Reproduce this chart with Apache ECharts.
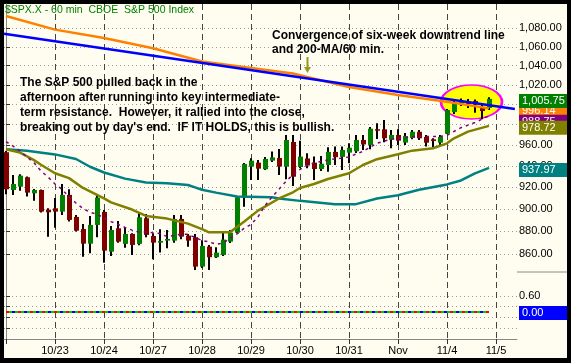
<!DOCTYPE html>
<html><head><meta charset="utf-8">
<script src="https://cdn.jsdelivr.net/npm/echarts@6/dist/echarts.min.js"></script>
<style>html,body{margin:0;padding:0;background:#000;}#c{width:571px;height:363px;}</style>
</head><body><div id="c"></div>
<script>
// ---- data (60-minute bars, 10/22 .. 11/4) ----
const opens = [953.0,917.3,920.4,929.2,914.3,917.3,899.3, 900.5,897.5,912.8,892.7,881.9,868.9,885.5, 897.2,861.9,882.5,868.7,877.5,868.7,891.5, 875.7,869.8,871.6,871.6,890.9,876.0,874.6, 849.0,866.3,857.1,859.1,870.7,878.6,910.6, 939.2,943.0,936.7,944.9,947.5,939.2,962.9, 938.9,947.0,943.0,937.0,940.8,953.3,948.5, 952.6,953.9,964.9,960.0,975.4,975.3,965.1, 969.7,962.3,966.8,972.9,967.8,965.5,962.2, 971.0,992.5,1001.3,1002.9,1003.6,997.1,996.6];
const highs = [954.2,931.3,932.0,929.9,918.3,917.8,900.5, 910.0,922.9,918.0,894.5,886.4,893.6,912.8, 899.0,884.6,889.1,883.4,878.1,896.6,895.4, 878.1,881.6,881.0,894.5,894.5,877.5,877.5, 872.0,867.8,865.8,878.6,881.0,911.8,942.7, 947.2,945.6,948.5,953.6,956.2,969.7,969.7, 964.2,952.0,948.8,949.4,957.8,958.4,958.6, 961.7,969.7,969.7,977.6,981.3,984.6,974.7, 975.3,971.7,974.7,974.7,969.7,966.5,969.7, 995.6,1003.9,1006.2,1005.7,1005.2,1001.6,1007.4];
const lows = [913.4,912.8,916.7,911.2,907.5,896.8,875.1, 883.1,894.5,888.5,879.6,857.6,860.5,874.6, 852.4,858.2,869.8,865.4,859.1,867.5,874.6, 855.3,861.1,864.9,869.8,872.7,866.3,846.2, 847.9,846.2,856.5,858.2,869.6,878.1,902.0, 926.6,926.6,936.0,943.7,931.3,927.3,921.0, 937.9,937.6,926.6,935.1,934.4,940.8,936.0, 942.4,952.3,955.2,955.9,965.8,962.6,956.8, 960.0,960.0,965.5,964.9,958.4,957.8,960.0, 970.7,990.5,998.6,996.6,991.8,985.2,994.5];
const closes = [918.0,922.9,930.7,914.9,917.3,897.5,896.9, 897.5,912.8,890.0,880.4,868.9,885.5,910.3, 862.8,881.0,870.7,877.5,867.8,892.4,876.6, 869.8,871.3,873.1,890.9,875.1,871.6,849.0, 866.9,857.1,861.1,872.5,878.6,910.6,941.7, 944.9,937.3,946.5,948.0,939.3,964.9,929.7, 948.8,940.3,937.0,942.0,953.3,948.2,955.2, 957.3,964.9,960.5,975.9,973.9,966.5,969.7, 964.2,968.7,972.9,966.5,962.2,963.9,967.8, 994.5,1001.1,1003.6,1000.6,999.9,993.5,1005.75];

// moving averages (bar index, value)
const ma10Idx = [0,1,2,4,5,6,7,8,9,10,11,12,13,14,15,16,17,18,19,20,22,23,25,26,27,28,29,30,31,32,33,34,35,36,37,38,39,40,41,42,43,44,46,48,49,51,52,53,55,58,62,63,65,67,69];
const ma10 = [963.2,959.0,954.0,942.9,935.1,929.4,922.9,918.0,910.9,905.3,900.3,896.9,895.2,891.8,888.5,886.0,883.3,880.9,879.2,879.2,877.8,875.1,877.2,877.2,874.4,871.7,870.5,868.4,869.5,873.5,877.5,882.4,886.0,892.7,902.9,910.9,918.1,925.5,931.5,936.6,940.3,942.8,945.6,947.4,948.5,953.8,957.8,961.7,965.6,968.1,968.3,969.5,976.9,982.0,988.75];
const ma20Idx = [0,2,4,5,7,9,11,13,14,15,18,20,23,26,28,29,32,34,36,39,41,42,44,46,49,51,53,56,58,61,63,64,66,69];
const ma20 = [955.8,952.6,945.4,941.0,933.0,928.4,919.2,912.8,909.6,905.9,899.4,893.6,891.2,886.7,881.8,878.9,878.9,888.4,898.4,909.5,915.2,919.2,922.9,927.6,933.0,940.8,946.3,951.0,954.5,956.8,961.6,966.5,973.0,978.72];
const ma50Idx = [0,3,7,10,12,14,17,20,23,26,27,28,30,33,38,39,42,47,50,53,56,59,63,65,67,69];
const ma50 = [955.8,954.5,950.9,946.5,939.1,933.7,927.9,924.2,923.6,922.0,919.8,917.5,914.9,911.3,910.7,909.5,907.3,904.3,904.3,909.5,912.4,917.6,922.5,926.2,932.9,937.97];
const ma200Idx = [0,7,14,21,28,35,41,43,49,56,63,69];
const ma200 = [1093.6,1078.6,1069.6,1058.5,1044.5,1037.7,1031.9,1028.3,1017.9,1009.7,1002.9,996.14];
const trendIdx = [-0.28, 72.7];
const trendVal = [1074.1, 995.6];
const lowerValues = [0,0,0,0,0,0,0, 0,0,0,0,0,0,0, 0,0,0,0,0,0,0, 0,0,0,0,0,0,0, 0,0,0,0,0,0,0, 0,0,0,0,0,0,0, 0,0,0,0,0,0,0, 0,0,0,0,0,0,0, 0,0,0,0,0,0,0, 0,0,0,0,0,0,0];

const dayStarts = [0,7,14,21,28,35,42,49,56,63,70];
const dayLabels = ['10/22','10/23','10/24','10/27','10/28','10/29','10/30','10/31','Nov','11/4','11/5'];
const priceTicks = [860,880,900,920,940,960,980,1000,1020,1040,1060,1080];
const lowerTicks = [-0.6,-0.2,0.2,0.6];
const lowerLabels = [0.6];

// ---- build ----
const fmt = v => Number(v).toLocaleString('en-US',{minimumFractionDigits:2, maximumFractionDigits:2});
const pairs = (ix, vs) => ix.map((x,k)=>[x, vs[k]]);
const candleData = opens.map((o,i)=>[i, o, highs[i], lows[i], closes[i]]);
const lowerData = lowerValues.map((v,i)=>[i, v]);
const last = a => a[a.length - 1];
const FONT = 'Arial, "Liberation Sans", sans-serif';
const CREAM = '#FFFDF0';

// value tag at the right edge, drawn by a markLine on an empty carrier series
function tagSeries(value, color, dy, xi, yi) {
  return {
    type: 'line', data: [], xAxisIndex: xi, yAxisIndex: yi, silent: true,
    markLine: {
      silent: true, symbol: ['none','none'], animation: false,
      lineStyle: {color: 'rgba(0,0,0,0)', width: 0},
      label: {show: true, position: 'end', distance: 2, offset: [0, dy],
        formatter: p => fmt(p.value), color: '#fff', backgroundColor: color,
        padding: [2,3,1,3], width: 42, fontSize: 11, fontFamily: FONT, lineHeight: 11},
      emphasis: {disabled: true},
      data: [{yAxis: value}]
    }
  };
}

const chart = echarts.init(document.getElementById('c'), null, {renderer: 'canvas'});
const xBase = {type: 'value', min: -2/7, max: 73};
const vLine = {show: true, lineStyle: {color: '#444', type: [6,4], width: 1}};

chart.setOption({
  animation: false,
  backgroundColor: '#000',
  graphic: [
    {type: 'rect', z: -10, silent: true, shape: {x: 4, y: 4, width: 563, height: 354}, style: {fill: CREAM}},
    {type: 'line', z: 10, silent: true, shape: {x1: 517, y1: 272, x2: 567, y2: 272}, style: {stroke: '#888', lineWidth: 1}}
  ],
  title: [
    {text: '$SPX.X - 60 min  CBOE  S&P 500 Index', left: 5, top: 5, padding: 0,
     textStyle: {color: '#008000', fontSize: 10.5, fontWeight: 'normal', fontFamily: FONT}},
    {text: 'Convergence of six-week downtrend line\nand 200-MA/60 min.', left: 272, top: 29, padding: 0,
     textStyle: {color: '#000', fontSize: 12, fontWeight: 'bold', fontFamily: FONT, lineHeight: 14}},
    {text: "The S&P 500 pulled back in the\nafternoon after running into key intermediate-\nterm resistance.  However, it rallied into the close,\nbreaking out by day's end.  IF IT HOLDS, this is bullish.",
     left: 20, top: 75, padding: 0,
     textStyle: {color: '#000', fontSize: 12, fontWeight: 'bold', fontFamily: FONT, lineHeight: 15}}
  ],
  grid: [
    {left: 4, top: 4, width: 513, height: 268, outerBoundsMode: 'none', containLabel: false},
    {left: 4, top: 272, width: 513, height: 67, outerBoundsMode: 'none', containLabel: false}
  ],
  xAxis: [
    Object.assign({gridIndex: 0}, xBase, {
      axisLine: {show: false}, axisTick: {show: false, customValues: dayStarts},
      axisLabel: {show: false, customValues: dayStarts}, splitLine: vLine}),
    Object.assign({gridIndex: 1}, xBase, {
      axisLine: {show: true, onZero: false, lineStyle: {color: '#888'}},
      axisTick: {show: true, customValues: dayStarts, length: 5, lineStyle: {color: '#333'}},
      axisLabel: {customValues: dayStarts.slice(1), color: '#000', fontSize: 11, fontFamily: FONT, margin: 6,
        formatter: v => dayLabels[dayStarts.indexOf(Math.round(v))]},
      splitLine: vLine})
  ],
  yAxis: [
    {gridIndex: 0, type: 'log', position: 'right', min: 844.4, max: 1106.9,
     axisLine: {show: true, lineStyle: {color: '#888'}},
     axisTick: {show: true, length: 4, customValues: priceTicks, lineStyle: {color: '#333'}},
     axisLabel: {customValues: priceTicks, formatter: v => fmt(v), color: '#000', fontSize: 11, fontFamily: FONT, margin: 2},
     splitLine: {show: true, lineStyle: {color: '#999', type: [1,3], width: 1}}},
    {gridIndex: 1, type: 'value', position: 'right', min: -1.0125, max: 1.5,
     axisLine: {show: true, lineStyle: {color: '#888'}},
     axisTick: {show: true, length: 4, customValues: lowerTicks, lineStyle: {color: '#333'}},
     axisLabel: {customValues: lowerLabels, formatter: v => Number(v).toFixed(2), color: '#000', fontSize: 11, fontFamily: FONT, margin: 2},
     splitLine: {show: true, lineStyle: {color: '#999', type: [1,3], width: 1}}}
  ],
  series: [
    {type: 'custom', name: 'SPX', xAxisIndex: 0, yAxisIndex: 0, z: 3, clip: false,
     data: candleData, encode: {x: 0, y: [1,2,3,4]},
     renderItem: function (params, api) {
       const i = api.value(0), o = api.value(1), h = api.value(2), l = api.value(3), c = api.value(4);
       const pO = api.coord([i, o]), pC = api.coord([i, c]), pH = api.coord([i, h]), pL = api.coord([i, l]);
       const x = Math.round(pO[0]);
       const top = Math.min(pO[1], pC[1]), bot = Math.max(pO[1], pC[1]);
       return {type: 'group', children: [
         {type: 'rect', shape: {x: x - 1, y: pH[1], width: 2, height: Math.max(pL[1] - pH[1], 1)}, style: {fill: '#000'}},
         {type: 'rect', shape: {x: x - 2, y: top, width: 5, height: Math.max(bot - top, 1.5)}, style: {fill: c >= o ? '#008000' : '#800000'}}
       ]};
     }},
    {type: 'line', name: 'MA50', xAxisIndex: 0, yAxisIndex: 0, z: 4, showSymbol: false, data: pairs(ma50Idx, ma50),
     lineStyle: {color: '#008080', width: 2.5}},
    {type: 'line', name: 'MA20', xAxisIndex: 0, yAxisIndex: 0, z: 4, showSymbol: false, data: pairs(ma20Idx, ma20),
     lineStyle: {color: '#808000', width: 2.5}},
    {type: 'line', name: 'MA10', xAxisIndex: 0, yAxisIndex: 0, z: 4, showSymbol: false, data: pairs(ma10Idx, ma10),
     lineStyle: {color: '#800080', width: 1.5, type: [3,4]}},
    {type: 'line', name: 'MA200', xAxisIndex: 0, yAxisIndex: 0, z: 5, showSymbol: false, data: pairs(ma200Idx, ma200),
     lineStyle: {color: '#FF8000', width: 2.5},
     markPoint: {silent: true, z: 6, animation: false, label: {show: false},
       data: [{coord: [43.07, 1032.4], symbol: 'path://M2.5,0 L4.5,0 L4.5,10 L7,10 L3.5,16 L0,10 L2.5,10 Z',
               symbolSize: [7, 16], symbolOffset: [0, '-50%'], itemStyle: {color: '#999922'}}]}},
    {type: 'line', name: 'Trend', xAxisIndex: 0, yAxisIndex: 0, z: 6, showSymbol: false, data: pairs(trendIdx, trendVal),
     lineStyle: {color: '#0000FF', width: 2.5},
     markPoint: {silent: true, z: 1, animation: false, label: {show: false},
       data: [{coord: [66.5, 1002.6], symbol: 'circle', symbolSize: [61, 34],
               itemStyle: {color: '#FFFF00', borderColor: '#FF00FF', borderWidth: 2}}]}},
    {type: 'line', xAxisIndex: 1, yAxisIndex: 1, showSymbol: false, data: lowerData,
     lineStyle: {color: '#00CC00', width: 2, type: [3,3], dashOffset: 3}},
    {type: 'line', xAxisIndex: 1, yAxisIndex: 1, showSymbol: false, data: lowerData,
     lineStyle: {color: '#FF0000', width: 2, type: [3,9], dashOffset: 0}},
    {type: 'line', xAxisIndex: 1, yAxisIndex: 1, showSymbol: false, data: lowerData,
     lineStyle: {color: '#0000FF', width: 2, type: [3,9], dashOffset: 6}},
    // value tags, later ones drawn on top
    tagSeries(last(ma50), '#008080', 2, 0, 0),
    tagSeries(last(ma200), '#FF8000', 2.5, 0, 0),
    tagSeries(last(ma10), '#800080', 6, 0, 0),
    tagSeries(last(ma20), '#808000', 2, 0, 0),
    tagSeries(last(closes), '#008000', 2, 0, 0),
    tagSeries(last(lowerValues), '#0000FF', 1, 1, 1)
  ]
});
</script></body></html>
